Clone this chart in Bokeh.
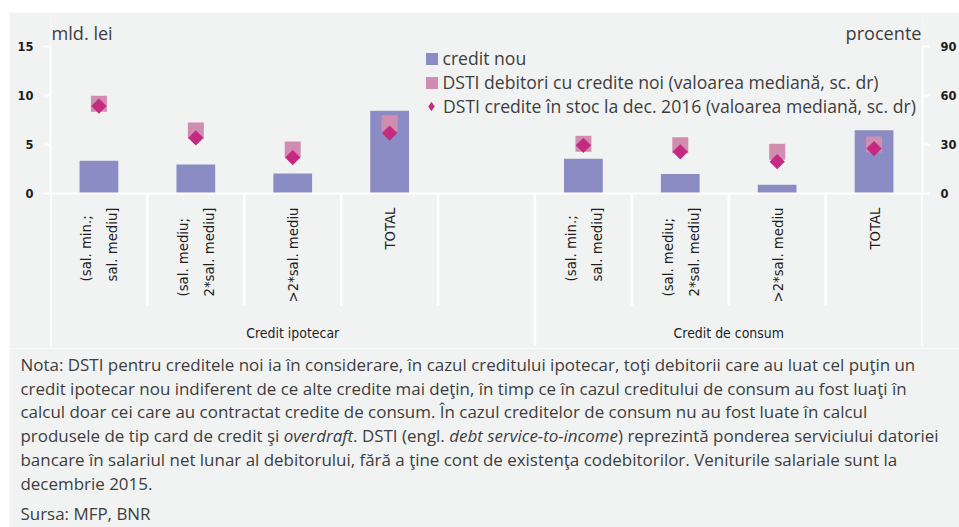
import math
import subprocess
from bokeh.plotting import figure
from bokeh.layouts import column, row
from bokeh.models import (Range1d, LinearAxis, FixedTicker, Span, Label, Legend,
                          LegendItem, ColumnDataSource, Spacer)
from bokeh.core.properties import value
from bokeh.embed import file_html
from bokeh.resources import INLINE

# ---------------- data ----------------
groups = ["Credit ipotecar", "Credit de consum"]
categories = ["(sal. min.;\nsal. mediu]", "(sal. mediu;\n2*sal. mediu]", ">2*sal. mediu", "TOTAL"]
credit_nou_ipotecar = [3.35, 2.95, 2.05, 8.45]
credit_nou_consum = [3.55, 2.0, 0.9, 6.45]
dsti_noi_ipotecar = [55.0, 38.5, 27.0, 43.0]
dsti_noi_consum = [30.5, 29.5, 25.5, 30.0]
dsti_stoc_ipotecar = [53.5, 34.0, 22.0, 37.0]
dsti_stoc_consum = [29.5, 25.5, 19.5, 27.5]
left_ticks = [0, 5, 10, 15]
right_ticks = [0, 30, 60, 90]
series_names = ["credit nou",
                "DSTI debitori cu credite noi (valoarea mediană, sc. dr)",
                "DSTI credite în stoc la dec. 2016 (valoarea mediană, sc. dr)"]
left_unit = "mld. lei"
right_unit = "procente"
note_lines = [
    [("Nota: DSTI pentru creditele noi ia în considerare, în cazul creditului ipotecar, toţi debitorii care au luat cel puţin un", False)],
    [("credit ipotecar nou indiferent de ce alte credite mai deţin, în timp ce în cazul creditului de consum au fost luaţi în", False)],
    [("calcul doar cei care au contractat credite de consum. În cazul creditelor de consum nu au fost luate în calcul", False)],
    [("produsele de tip card de credit şi ", False), ("overdraft", True), (". DSTI (engl. ", False),
     ("debt service-to-income", True), (") reprezintă ponderea serviciului datoriei", False)],
    [("bancare în salariul net lunar al debitorului, fără a  ţine cont de existenţa codebitorilor. Veniturile salariale sunt la", False)],
    [("decembrie 2015.", False)],
]
source_line = "Sursa: MFP, BNR"

# ---------------- fonts ----------------
def _run(args):
    return subprocess.run(args, capture_output=True, text=True, timeout=10).stdout

def pick_font(prefs, fallback):
    try:
        fams = set()
        for line in _run(["fc-list", ":", "family"]).splitlines():
            for f in line.split(","):
                fams.add(f.strip())
        for f in prefs:
            if f in fams:
                return f
    except Exception:
        pass
    return fallback

SANS = "Open Sans"
COND = pick_font(["Liberation Sans Narrow", "DejaVu Sans Condensed", "Roboto Condensed",
                  "Noto Sans Condensed", "Open Sans Condensed"], "Roboto")

def font_file(family, style=""):
    out = _run(["fc-match", "-f", "%{file}\t%{family}", family + (":" + style if style else "")])
    path, fam = out.split("\t", 1)
    if family.lower() not in fam.lower():
        return None
    return path

def text_px(s, size, family=SANS, style=""):
    try:
        from PIL import ImageFont
        path = font_file(family, style) or font_file(family)
        return ImageFont.truetype(path, size).getlength(s)
    except Exception:
        return len(s) * size * 0.5

def fit(s, family, target, default, style=""):
    w = text_px(s, 20, family, style)
    if w <= 0:
        return default
    return round(max(default * 0.75, min(default * 1.3, 20 * target / w)), 2)

NOTE_SIZE = fit(note_lines[0][0][0], SANS, 895, 15.5)
LEG_SIZE = fit(series_names[2], SANS, 473, 17)
UNIT_SIZE = fit(right_unit, SANS, 76, 17)
CAT_SIZE = fit(categories[2], COND, 95, 16)
GRP_SIZE = fit(groups[0], COND, 93, 17)
TICK_SIZE = fit("15", COND, 16, 16, "bold")

# ---------------- layout constants (page pixels; the page has no margin) ----------------
PAGE_W, PAGE_H = 959, 527
LEFT_GAP, TOP_GAP = 9, 12
W = PAGE_W - LEFT_GAP
P1_TOP, P1_BOT = TOP_GAP, 348
P2_BOT = PAGE_H
FRAME_L, FRAME_R = 50, 923
ZERO_Y, TOP_Y = 193, 46
Y_MAX = left_ticks[-1]
R_MAX = right_ticks[-1]
N_SLOTS = 2 * len(categories) + 1
SLOT = (FRAME_R - FRAME_L) / N_SLOTS
PPU = (ZERO_Y - TOP_Y) / Y_MAX
R_SCALE = R_MAX / Y_MAX
LABEL_SHIFT = 6  # labels render a little below their nominal baseline

def px_x(px):
    return (px - FRAME_L) / SLOT - 0.5

def px_y(py):
    return (ZERO_Y - py) / PPU

BG = "#f1f3f3"
BAR = "#8b8cc4"
PINK = "#d08db0"
MAGENTA = "#c42a80"
TXT = "#3d3d3d"
AXT = "#1e1e1e"

# slot positions: group 1 = slots 0..3 (+ empty slot 4), group 2 = slots 5..8
x_ip = list(range(len(categories)))
x_co = [len(categories) + 1 + i for i in range(len(categories))]
xs = x_ip + x_co
labels_all = categories + categories

src = ColumnDataSource(dict(
    x=xs,
    credit=credit_nou_ipotecar + credit_nou_consum,
    noi=dsti_noi_ipotecar + dsti_noi_consum,
    stoc=dsti_stoc_ipotecar + dsti_stoc_consum,
))

y0, y1 = px_y(P1_BOT), px_y(P1_TOP)
p = figure(width=W, height=P1_BOT - P1_TOP, x_range=Range1d(-0.5, N_SLOTS - 0.5),
           y_range=Range1d(y0, y1), output_backend="svg", toolbar_location=None,
           x_axis_location=None, y_axis_location=None,
           min_border_left=FRAME_L - LEFT_GAP, min_border_right=PAGE_W - FRAME_R,
           min_border_top=0, min_border_bottom=0,
           background_fill_color=BG, border_fill_color=BG, outline_line_color=None)
p.xgrid.visible = False
p.ygrid.visible = False
p.extra_y_ranges = {"r": Range1d(y0 * R_SCALE, y1 * R_SCALE)}

def style_axis(ax, standoff, tick_out):
    ax.axis_line_color = "white"
    ax.axis_line_width = 2
    ax.major_tick_line_color = "white"
    ax.major_tick_line_width = 2
    ax.major_tick_out = tick_out
    ax.major_tick_in = 0
    ax.minor_tick_line_color = None
    ax.major_label_text_font = COND
    ax.major_label_text_font_size = f"{TICK_SIZE}px"
    ax.major_label_text_font_style = "bold"
    ax.major_label_text_color = AXT
    ax.major_label_standoff = standoff

lax = LinearAxis(ticker=FixedTicker(ticks=left_ticks), bounds=(0, Y_MAX))
style_axis(lax, 10, 7)
p.add_layout(lax, "left")
rax = LinearAxis(y_range_name="r", ticker=FixedTicker(ticks=right_ticks), bounds=(0, R_MAX))
style_axis(rax, 11, 7)
p.add_layout(rax, "right")

p.add_layout(Span(location=0, dimension="width", line_color="white", line_width=2))

# category separators below the axis
bounds_x = [b - 0.5 for b in range(N_SLOTS + 1)]
long_b = {-0.5, len(categories) + 0.5, N_SLOTS - 0.5}
sep_y1 = [px_y(345) if b in long_b else px_y(305) for b in bounds_x]
p.segment(x0=bounds_x, y0=[0] * len(bounds_x), x1=bounds_x, y1=sep_y1,
          line_color="white", line_width=2.5)

bars = p.vbar(x="x", top="credit", width=0.4, source=src, fill_color=BAR, line_color=None)
sq = p.rect(x="x", y="noi", width=16, height=16, width_units="screen", height_units="screen",
            source=src, y_range_name="r", fill_color=PINK, line_color=None)
# legend key for the diamond series (drawn beneath the rotated squares, same points)
dm_key = p.scatter(x="x", y="stoc", marker="diamond", size=13, source=src, y_range_name="r",
                   fill_color=MAGENTA, line_color=None)
dm = p.scatter(x="x", y="stoc", marker="square", angle=math.pi / 4, size=10.8, source=src,
               y_range_name="r", fill_color=MAGENTA, line_color=None)

# category labels (rotated, lines aligned at their lower end, longest line starting at the top)
CAT_TOP = 207
cat_len = [max(text_px(s, CAT_SIZE, COND) for s in lab.split("\n")) for lab in labels_all]
p.text(x=xs, y=[px_y(CAT_TOP + L) for L in cat_len], text=labels_all, angle=math.pi / 2,
       text_align="left", text_baseline="middle", text_font=value(COND),
       text_font_size=f"{CAT_SIZE}px", text_color=AXT, text_line_height=round(22.5 / CAT_SIZE, 3))
# group labels
group_centers = [(0 + len(categories)) / 2, (x_co[0] + x_co[-1]) / 2]
p.text(x=group_centers, y=[px_y(332)] * 2, text=groups, text_align="center",
       text_baseline="middle", text_font=value(COND), text_font_size=f"{GRP_SIZE}px",
       text_color=AXT)

# units
p.add_layout(Label(x=px_x(51), y=px_y(39 - 7), text=left_unit, text_font=SANS,
                   text_font_size=f"{UNIT_SIZE}px", text_color=TXT, text_baseline="alphabetic"))
p.add_layout(Label(x=px_x(922), y=px_y(39 - 7), text=right_unit, text_font=SANS,
                   text_font_size=f"{UNIT_SIZE}px", text_color=TXT, text_baseline="alphabetic",
                   text_align="right"))

# legends (location: x from frame left, y from frame bottom, in px)
common = dict(padding=0, margin=0, spacing=0, label_height=24, border_line_color=None,
              background_fill_alpha=0, label_text_font=SANS,
              label_text_font_size=f"{LEG_SIZE}px", label_text_color=TXT)
legA = Legend(items=[LegendItem(label=series_names[0], renderers=[bars]),
                     LegendItem(label=series_names[1], renderers=[sq])],
              location=(423.5 - FRAME_L, P1_BOT - 94), glyph_width=15, glyph_height=15,
              label_standoff=4, **common)
legB = Legend(items=[LegendItem(label=series_names[2], renderers=[dm_key])],
              location=(419 - FRAME_L, P1_BOT - 118), glyph_width=24, glyph_height=24,
              label_standoff=0, **common)
p.add_layout(legA)
p.add_layout(legB)

# ---------------- notes (second panel, page-pixel coordinates) ----------------
q = figure(width=W, height=P2_BOT - P1_BOT, x_range=Range1d(LEFT_GAP, PAGE_W),
           y_range=Range1d(P2_BOT, P1_BOT), output_backend="svg", toolbar_location=None,
           x_axis_location=None, y_axis_location=None,
           min_border_left=0, min_border_right=0, min_border_top=0, min_border_bottom=0,
           background_fill_color=BG, border_fill_color=BG, outline_line_color=None)
q.xgrid.visible = False
q.ygrid.visible = False
for fig in (p, q):
    if "frame_align" in fig.properties():
        fig.frame_align = False

NOTE_X = 20
baselines = [370 + 23.7 * i for i in range(len(note_lines))]
for segs, base in zip(note_lines, baselines):
    cx = NOTE_X
    for s, it in segs:
        q.add_layout(Label(x=cx, y=base - LABEL_SHIFT, text=s, text_font=SANS,
                           text_font_size=f"{NOTE_SIZE}px",
                           text_font_style="italic" if it else "normal",
                           text_color=TXT, text_baseline="alphabetic"))
        cx += text_px(s, NOTE_SIZE, SANS, "italic" if it else "")
q.add_layout(Label(x=NOTE_X, y=519 - LABEL_SHIFT, text=source_line, text_font=SANS,
                   text_font_size=f"{NOTE_SIZE}px", text_color=TXT, text_baseline="alphabetic"))

layout = column(Spacer(width=PAGE_W, height=TOP_GAP),
                row(Spacer(width=LEFT_GAP, height=PAGE_H - TOP_GAP), column(p, q, spacing=0), spacing=0),
                spacing=0)
open("out.html", "w").write(file_html(layout, INLINE))
